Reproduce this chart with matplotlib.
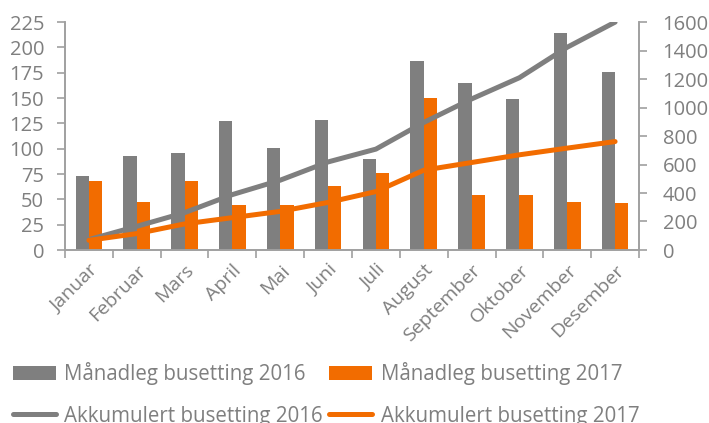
import numpy as np
import matplotlib.pyplot as plt
import matplotlib.transforms as mtransforms

# months and values
months = ["Januar", "Februar", "Mars", "April", "Mai", "Juni", "Juli",
          "August", "September", "Oktober", "November", "Desember"]
monthly_2016 = [73, 93, 96, 127, 101, 128, 90, 187, 165, 149, 214, 176]
monthly_2017 = [68, 47, 68, 44, 44, 63, 76, 150, 54, 54, 47, 46]
accum_2016 = [73, 166, 262, 389, 490, 618, 708, 895, 1060, 1209, 1423, 1599]
accum_2017 = [68, 115, 183, 227, 271, 334, 410, 560, 614, 668, 715, 761]

grey = "#7f7f7f"
orange = "#f26c00"
axis_col = "#a0a0a0"

plt.rcParams["font.family"] = ["Open Sans", "DejaVu Sans"]

fig = plt.figure(figsize=(7.09, 4.23), dpi=100)
ax = fig.add_axes([65 / 709, 1 - 250 / 423, (639 - 65) / 709, 228 / 423])
ax2 = ax.twinx()

x = np.arange(len(months))
w = 0.28
b1 = ax.bar(x - w / 2, monthly_2016, w, color=grey, label="Månadleg busetting 2016")
b2 = ax.bar(x + w / 2, monthly_2017, w, color=orange, label="Månadleg busetting 2017")
l1, = ax2.plot(x, accum_2016, color=grey, lw=3.6, solid_capstyle="round",
               label="Akkumulert busetting 2016")
l2, = ax2.plot(x, accum_2017, color=orange, lw=3.6, solid_capstyle="round",
               label="Akkumulert busetting 2017")

ax.set_xlim(-0.5, 11.5)
ax.set_ylim(0, 225)
ax2.set_ylim(0, 1600)
ax.set_yticks(np.arange(0, 226, 25))
ax2.set_yticks(np.arange(0, 1601, 200))

ax.set_xticks(x)
ax.set_xticklabels(months, rotation=45, ha="right", rotation_mode="anchor")
shift = mtransforms.ScaledTranslation(-4 / 100, -7 / 100, fig.dpi_scale_trans)
for lab in ax.get_xticklabels():
    lab.set_transform(lab.get_transform() + shift)
ax.set_xticks(np.arange(-0.5, 12, 1), minor=True)
ax.tick_params(axis="x", which="major", length=0, pad=8)
ax.tick_params(axis="x", which="minor", length=6, color=axis_col, width=1.2)

for a in (ax, ax2):
    for s in a.spines.values():
        s.set_color(axis_col)
        s.set_linewidth(1.2)
    a.spines["top"].set_visible(False)
    a.tick_params(axis="y", length=6, color=axis_col, width=1.2,
                  labelsize=14.5, labelcolor=grey, pad=9)
ax.tick_params(axis="x", labelsize=14, labelcolor=grey)
ax2.tick_params(axis="y", pad=11)

fig.legend([b1, l1, b2, l2],
           [b1.get_label(), l1.get_label(), b2.get_label(), l2.get_label()],
           ncol=2, loc="upper left", bbox_to_anchor=(13 / 709, 1 - 362 / 423),
           frameon=False, fontsize=14.8, labelcolor=grey, handlelength=2.1,
           handletextpad=0.4, columnspacing=0.3, labelspacing=1.0,
           borderpad=0, borderaxespad=0)

fig.savefig("out.png", dpi=100)
